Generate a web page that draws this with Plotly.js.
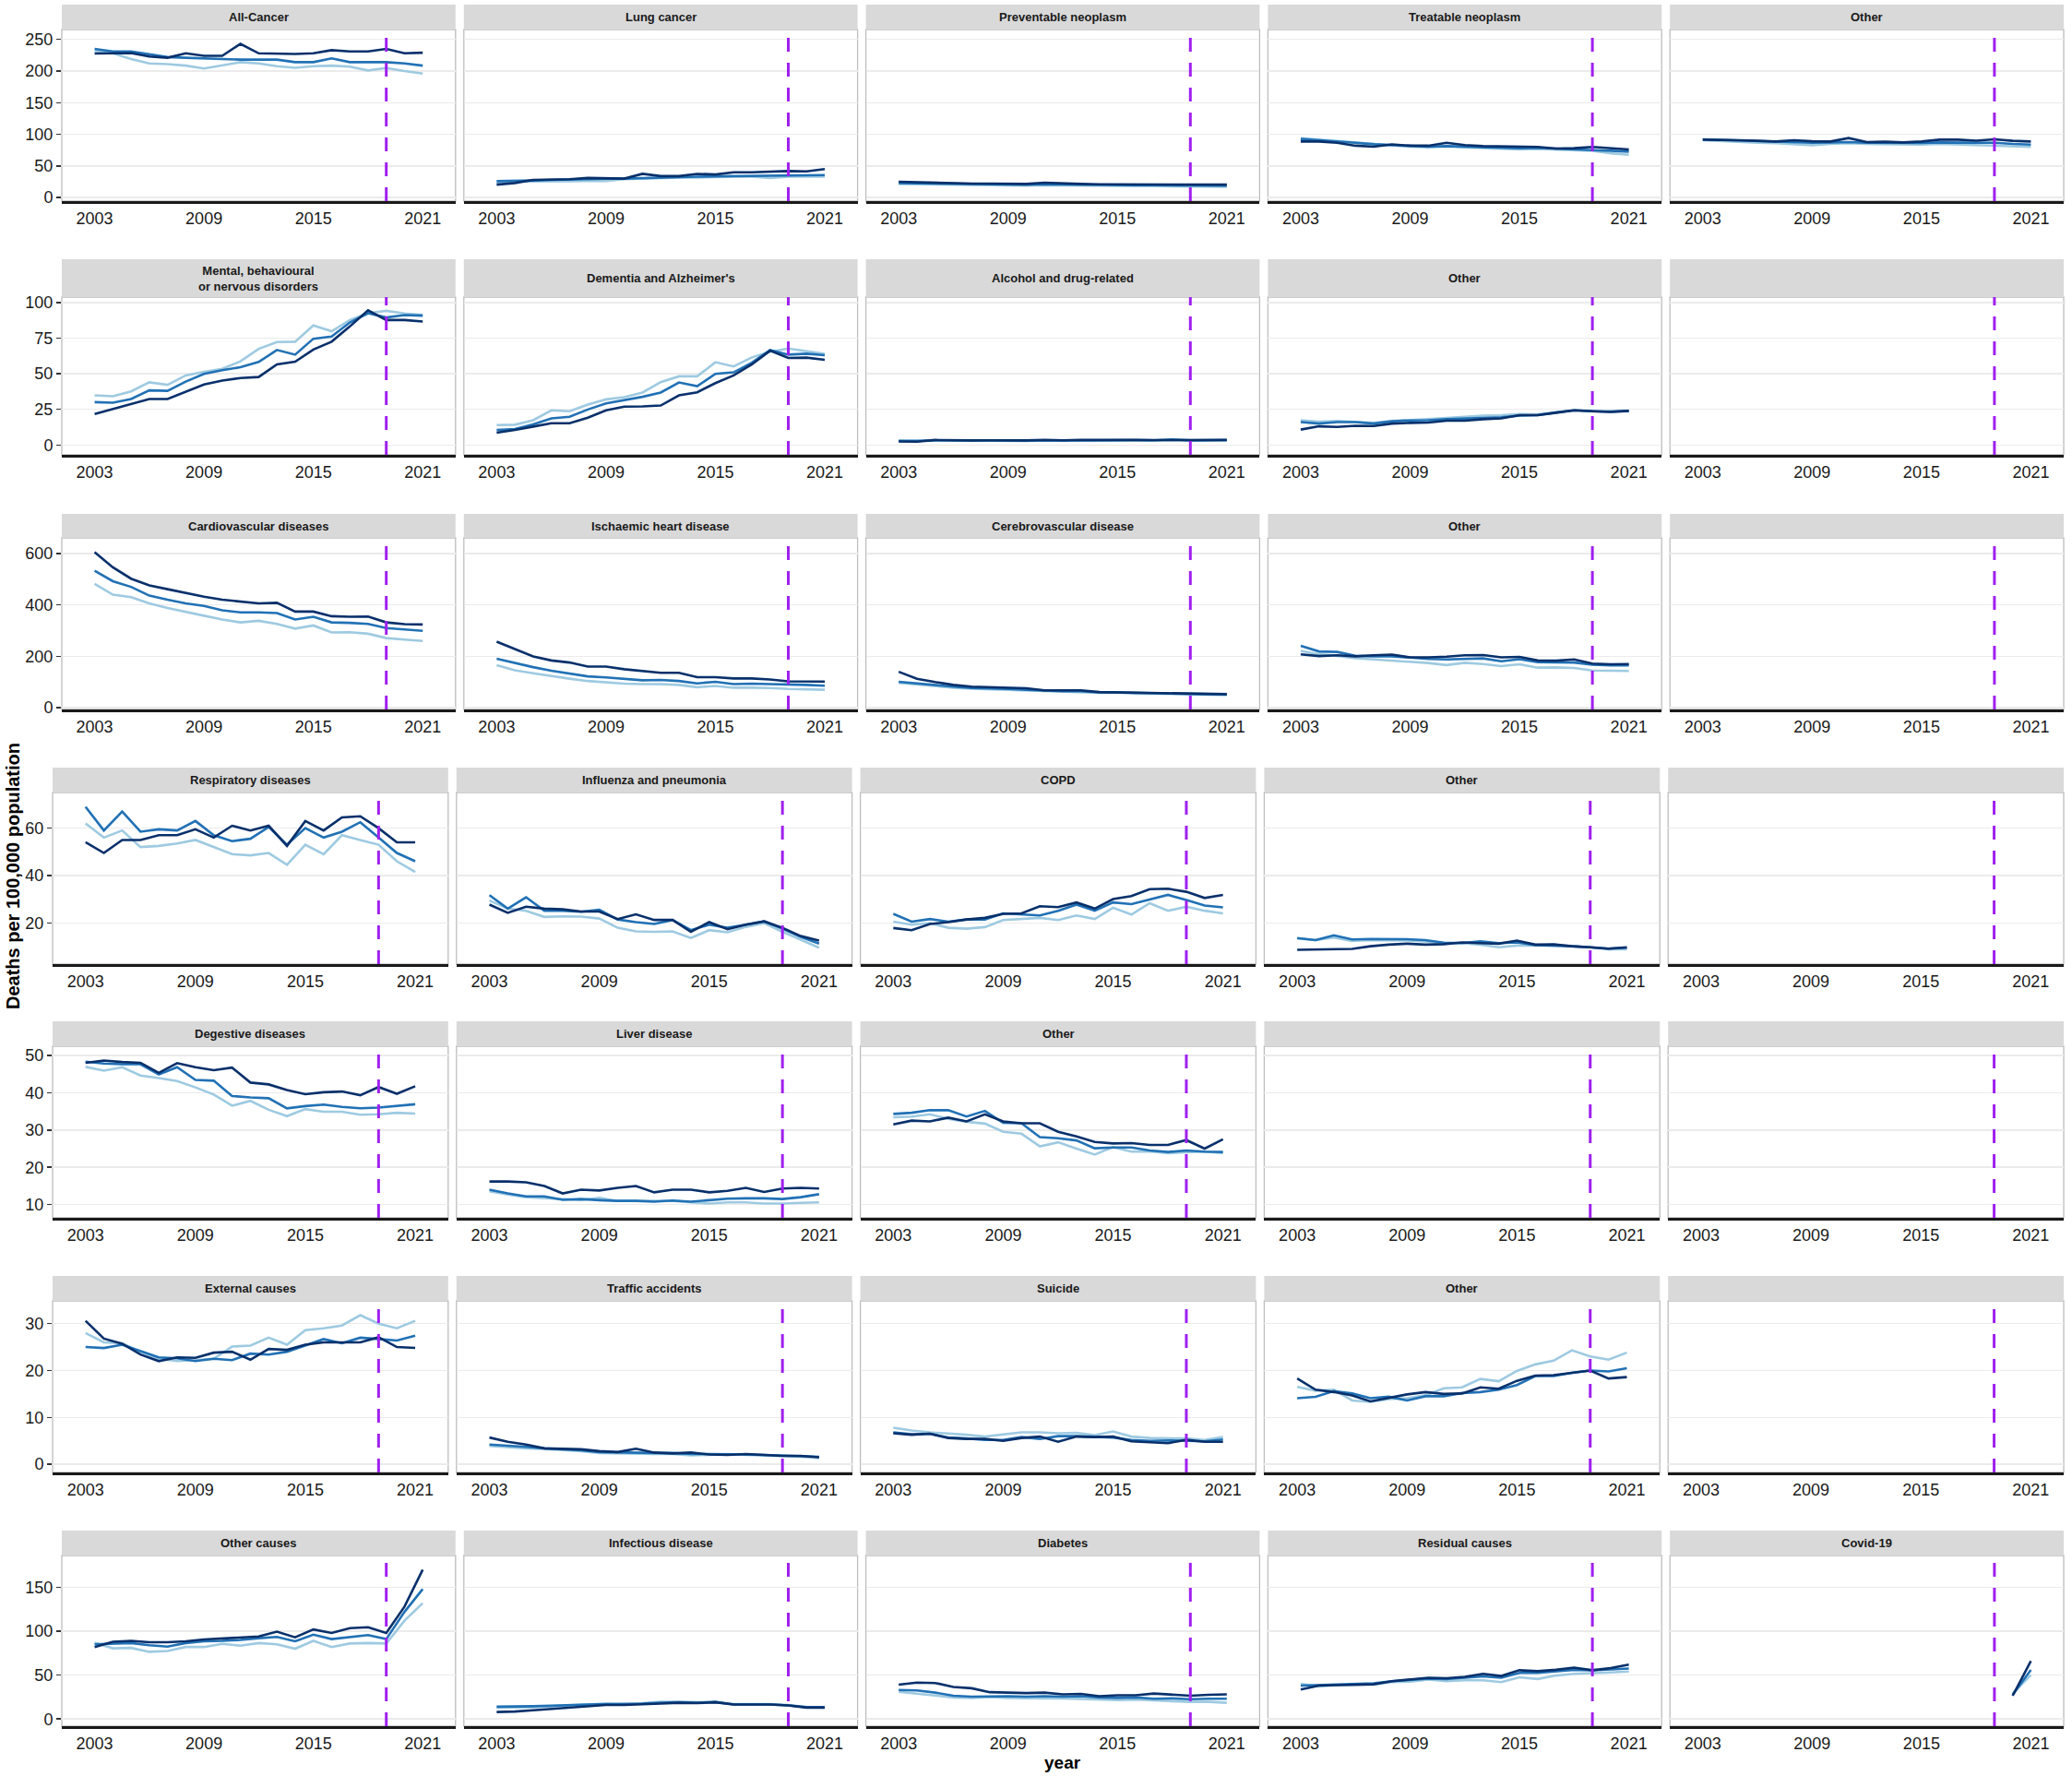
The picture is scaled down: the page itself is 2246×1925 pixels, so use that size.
<!DOCTYPE html>
<html><head><meta charset="utf-8">
<script src="https://cdn.plot.ly/plotly-3.0.1.min.js"></script>
<style>html,body{margin:0;padding:0;background:#fff;} #chart{width:2246px;height:1925px;}</style>
</head><body><div id="chart"></div>
<script>
// ---------------- DATA ----------------
const years = [2003,2004,2005,2006,2007,2008,2009,2010,2011,2012,2013,2014,2015,2016,2017,2018,2019,2020,2021];
const covidYears = [2020, 2021];
const xTicks = [2003, 2009, 2015, 2021];
const cutoffYear = 2019;

// Row 1: cancer
const allCancerDark  = [227.6,228,228.5,223,221,228,224,224,243,228,227,227,228,233,231,231,235,228,229];
const allCancerMid   = [235,231,231,227,222,221,220,218,218,218,218,214,214,220,214,214,214,212,208.5];
const allCancerLight = [232,228,219,212,211,208.5,204,209.5,214,212,207.6,205,207.6,208.5,207,201,204.7,200,196];
const lungDark  = [20.5,23,28,28,29,31,31,30,37.5,34,34,37.5,36.5,40,40,41.4,42,41.4,45];
const lungMid   = [26,26,27,28,29,30,30,30,31,32,32.6,33,33.6,34,34,35,35,35.6,35.6];
const lungLight = [23.4,25.3,25.3,26,26,26.3,26.3,29,30,31,31.7,31.7,32.6,33,33,31,33,33,33];
const prevDark  = [25,24,23.5,23,22,22,21.5,21.5,23.5,22,21.5,21,21,21,21,21,20.5,20,20.5];
const prevMid   = [23,22.5,22,21.5,21,21,20.5,20.5,21,20.5,20,19.5,19.5,19.5,19.5,19.5,19,19,19];
const prevLight = [21.5,21,21,20.5,20,20,19.5,19,19.5,19,18.5,18.5,18,18,18,17.5,17.5,17,17];
const treatDark  = [88.7,88.7,86.7,82,80.4,84,82,82,86.7,83,81.4,81,81.4,80,77.5,78,80,78,76];
const treatMid   = [92.6,90.6,89.7,86.7,84.3,83,81.4,80.4,81.4,80.4,79.4,78,78,78.5,77,76,75,74,72.6];
const treatLight = [94,91.6,90,87.7,85,83,80.4,79.4,81,79.4,78,77,76,77,76,75,74,70,67.7];
const otherCancerDark  = [91.6,91.6,90.6,89.7,88.7,90.6,89,88.7,94,87.7,88.2,87.2,88.7,91.6,91.6,90,92,89.7,88.7];
const otherCancerMid   = [92,91,89.7,88.7,88.2,87.2,86.7,87.2,87.7,86.7,86.2,85.8,86.2,87.2,86.7,86.7,86.7,84.8,83.8];
const otherCancerLight = [90.6,89,87.7,86.7,85.8,83.8,82.8,84.8,85.8,84.8,84.3,83.8,83.8,84.8,83.8,82.8,82.8,81,80];

// Row 2: mental
const mentalDark  = [21.7,25.2,28.8,32.3,32.3,37.4,42.4,45.2,47,47.7,56.6,58.5,67,72.5,83.2,94.6,87.7,87.7,86.7];
const mentalMid   = [30.1,29.7,32.3,38.3,38,44.5,49.9,52.5,54.6,58.3,66.7,63.4,74.6,76.1,86,92.5,89.5,91.2,90.8];
const mentalLight = [34.8,34.2,37.6,44,42.2,48.8,51.4,53.5,58.7,67.5,72.3,72.5,83.9,79.8,87.7,92.5,94.2,92.3,91.4];
const dementiaDark  = [8.6,10.5,12.9,15.3,15.3,19.1,24.3,26.9,27.1,27.7,34.8,37,43.4,48.8,56.6,66.2,61.1,61.3,59.8];
const dementiaMid   = [10.5,11.2,14.4,18.7,19.8,24.9,29.2,31.6,33.8,36.8,43.9,41.3,49.9,51,57.8,66.7,63.4,64.1,63];
const dementiaLight = [14,14.2,17.4,24.3,23.7,28.4,32,33.5,36.8,44.1,48.2,48.2,58.1,55.1,61.5,65.4,67.7,65.6,63.9];
const alcoholDark  = [2.5,2.3,3.5,3.2,3.2,3.3,3.2,3.2,3.6,3.3,3.6,3.7,3.6,3.5,3.4,3.5,3.2,3.3,3.5];
const alcoholMid   = [2.8,2.8,3.3,3.2,3.1,3.0,2.9,3.0,3.1,3.1,3.3,3.4,3.4,3.4,3.3,3.9,3.2,3.3,3.4];
const alcoholLight = [3.3,3.2,3.2,3.1,3.0,2.9,2.6,2.8,3.0,3.0,3.1,3.2,3.3,3.3,3.2,3.3,3.1,3.2,3.3];
const otherMentalDark  = [10.8,13.1,12.7,13.5,13.3,15,15.5,15.7,17,17,18.1,18.7,20.9,20.9,22.6,24.3,23.7,23.2,23.9];
const otherMentalMid   = [16.1,15,16.1,16.1,15,16.6,17.2,17.4,18.1,18.5,18.9,19.4,20.6,20.9,22.8,24.3,23.7,23.4,23.9];
const otherMentalLight = [17.4,16.3,16.8,16.1,15.5,16.8,17.4,18.1,18.9,19.8,20.6,20.9,21.7,21.5,23,24.5,23.9,23.4,23.9];

// Row 3: cardiovascular
const cvdDark  = [605,546,502,476,461,446,432,420,412,406,408,374,374,356,354,355,332,325,324];
const cvdMid   = [533,492,470,436,420,406,396,379,371,371,368,343,354,332,330,326,310,305,299];
const cvdLight = [482,440,430,406,388,372,358,343,332,338,326,308,320,293,294,288,271,265,260];
const ihdDark  = [257,228,200,184,176,160,160,150,144,136,136,119,119,114,114,110,103,102,102];
const ihdMid   = [191,174,158,144,132,122,118,112,107,108,104,95,101,92,94,92,91,89,86];
const ihdLight = [166,146,134,123,113,104,98,94,92,92,89,80,85,78,78,77,73,72,70];
const cbvDark  = [140,113,100,89,82,80,80,76,68,67,68,61,60,60,58,56,56,54,53];
const cbvMid   = [101,94,88,82,77,76,73,70,66,64,64,60,60,58,56,55,54,53,52];
const cbvLight = [97,90,84,78,74,72,70,66,64,62,61,58,59,55,55,53,53,50,49];
const otherCvdDark  = [208,201,204,200,204,207,196,196,199,204,205,196,198,184,183,188,172,169,170];
const otherCvdMid   = [241,219,217,202,200,200,195,190,188,190,192,181,189,177,177,176,168,165,165];
const otherCvdLight = [221,208,202,193,188,184,178,174,166,175,170,162,169,156,157,155,145,144,143];

// Row 4: respiratory
const respDark  = [54,49.5,55,55,57,57,59.5,56,61,59,61,52.5,63,59,64.5,65,60,54,54];
const respMid   = [69,59,67,58.5,59.5,59,63,57,54.5,55.5,60.5,53,60,56,58.5,62.5,56,49.5,46];
const respLight = [62,56,59,52,52.5,53.5,55,52,49,48.5,49.5,44.5,53,49,57,55,53,46,41.5];
const fluDark  = [27.7,24.2,26.8,26,25.7,24.8,24.8,21.6,23.6,21.2,21.2,16.2,20.3,17.3,19.2,20.6,17.9,14.4,12.5];
const fluMid   = [31.7,26,30.8,25.1,25.1,24.7,25.5,21.4,20.3,19.5,21.2,16.9,19.2,17.9,19.2,20.6,17.5,14,11.2];
const fluLight = [29.4,26,25.1,22.5,22.7,22.6,21.8,17.9,16.4,16.2,16.4,13.6,16.9,16,18.3,19.9,16.2,12.7,9.5];
const copdDark  = [17.8,16.9,19.5,20.3,21.4,22.1,23.8,24,27,26.6,28.6,26,30,31.3,34.2,34.4,33.1,30.5,31.8];
const copdMid   = [23.8,20.5,21.6,20.5,21.4,21.4,24,23.6,23.1,25.1,27.7,25.1,28.6,27.9,29.9,31.8,29.6,27.3,26.5];
const copdLight = [20.5,19.2,19.9,17.9,17.5,18.2,21.2,21.6,22.1,21.2,23.1,21.6,26.4,23.5,28.3,25.1,26.8,25.1,24];
const otherRespDark  = [8.6,8.8,9,9,10.1,10.8,11.2,10.8,11,11.7,11.4,11.2,12.5,10.8,10.9,10.1,9.7,9.1,9.7];
const otherRespMid   = [13.6,12.7,14.7,13,13.2,13.1,13.1,12.7,11.6,11.4,12.2,11.4,11.7,10.6,10.4,10.1,9.7,9.1,9.5];
const otherRespLight = [13.4,12.7,13.8,12.3,12.7,12.7,12.5,12.1,11.4,11.4,10.8,9.7,10.4,10.4,10.8,10.1,9.7,8.8,8.8];

// Row 5: digestive
const digestDark  = [48,48.6,48.2,48,45.3,47.9,46.8,46,46.7,42.7,42.2,40.7,39.6,40.1,40.3,39.3,41.5,39.7,41.7];
const digestMid   = [48.3,47.8,47.6,47.6,44.9,46.8,43.4,43.2,39.1,38.7,38.5,35.8,36.4,36.8,36.2,35.8,36,36.4,36.9];
const digestLight = [46.9,45.9,46.8,44.6,43.9,43.1,41.4,39.5,36.5,37.8,35.4,33.7,35.6,34.9,34.9,34.1,34.2,34.6,34.4];
const liverDark  = [16.2,16.2,16,15,13,14,13.8,14.5,15,13.3,14,14,13.3,13.7,14.5,13.4,14.3,14.5,14.3];
const liverMid   = [14,13,12.2,12.2,11.3,11.5,11.2,11,11,10.8,11.1,10.8,11.2,11.6,11.7,11.7,11.5,12,12.8];
const liverLight = [13.6,12.7,12,11.8,11.5,11.2,11.8,11,11,10.9,11,10.6,10.3,10.6,10.6,10.3,10.3,10.5,10.6];
const otherDigestDark  = [31.5,32.5,32.3,33.3,32.3,34.2,32.3,31.8,31.8,29.5,28.3,26.8,26.4,26.5,26,26,27.3,25,27.5];
const otherDigestMid   = [34.3,34.6,35.3,35.3,33.6,35.1,31.9,31.8,28.1,27.8,27.2,25.1,25.3,25.3,24.5,24.1,24.5,24.2,24.1];
const otherDigestLight = [33.4,33.6,34.2,33,32.2,31.7,29.5,29,25.6,26.7,25,23.4,25.4,24.2,24.3,23.8,24,24.2,23.8];

// Row 6: external
const externalDark  = [30.6,26.8,25.7,23.4,22,22.8,22.7,23.8,24,22.3,24.6,24.4,25.5,26,26,26,27.1,25,24.8];
const externalMid   = [25,24.8,25.5,24.2,22.8,22.6,22,22.5,22.2,23.6,23.4,24,25.3,26.7,25.8,27,26.7,26.4,27.4];
const externalLight = [28,26,25.8,24,22.5,22,22.2,22.5,25.1,25.3,27,25.5,28.6,29,29.6,31.8,30,29,30.6];
const trafficDark  = [5.7,4.8,4.2,3.4,3.3,3.2,2.8,2.6,3.3,2.5,2.3,2.5,2.1,2.0,2.2,2.0,1.8,1.8,1.5];
const trafficMid   = [4.2,4.0,3.7,3.4,3.2,3.0,2.6,2.5,2.5,2.4,2.4,2.2,2.2,2.2,2.1,2.0,1.9,1.8,1.6];
const trafficLight = [3.9,3.6,3.4,3.3,3.1,2.8,2.4,2.3,2.3,2.2,2.2,1.9,2.0,2.2,2.0,1.9,1.8,1.6,1.3];
const suicideDark  = [6.6,6.3,6.5,5.6,5.4,5.4,5.0,5.6,5.9,4.8,5.9,5.8,5.9,4.9,4.7,4.5,5.2,4.8,4.8];
const suicideMid   = [6.8,6.4,6.5,5.7,5.5,5.2,5.2,5.8,5.4,6.0,6.0,5.9,5.7,5.2,5.0,5.1,5.0,4.9,5.3];
const suicideLight = [7.8,7.2,6.8,6.6,6.3,5.9,6.3,6.8,6.8,6.6,6.7,6.2,7.0,5.9,5.6,5.6,5.5,5.2,5.8];
const otherExtDark  = [18.3,15.9,15.4,14.7,13.4,14.2,14.9,15.4,15,15.1,16.4,16.1,17.8,18.9,19,19.5,20,18.3,18.6];
const otherExtMid   = [14.1,14.4,15.6,15.1,14.1,14.4,13.6,14.5,14.5,15.2,15.4,15.9,16.9,18.8,18.8,19.5,20,19.8,20.5];
const otherExtLight = [16.5,15.7,15.9,13.6,13.3,13.9,14.1,14.7,16.2,16.4,18.2,17.7,19.9,21.3,22.1,24.3,23,22.3,23.8];

// Row 7: other causes
const otherCausesDark  = [82,88,89,87.5,87.5,88.5,90.5,91.5,92.5,94,99.5,93,102,98,103.5,104.5,98,128,170];
const otherCausesMid   = [85,86,86.5,84,82.5,86.5,88.5,89,90,92,93.5,88.5,96,91,93,95.5,91,122,148];
const otherCausesLight = [87,80.5,81,76.5,77.5,82,82,85.5,83.5,86.5,85,80,89,82,86,86.5,86,112,132];
const infectDark  = [8,8.5,10,11.5,13,15,16,16,16.5,17.5,18.5,18,19,16.5,16.5,16.5,15.5,13,13];
const infectMid   = [14,14,14.5,15,16,16.5,17,17,17.5,18.5,19,18.5,19.5,16.5,16.5,16.5,15.5,13.5,13.5];
const infectLight = [13,13,13.5,14.5,15.5,16.5,17.5,16.5,18,19.5,19.5,19,19,17,17,17,16,13.5,13.5];
const diabetesDark  = [39,41.5,41,36.5,35,30.5,30,29.5,30,28,28.5,26,27,27,29,28,26.5,27.5,28];
const diabetesMid   = [33,32.5,30,26.5,25.5,26,26,25.5,26,25.5,26,24.5,24,24.5,23,23.5,22.5,23,23];
const diabetesLight = [31,29,27,24.5,24,25,24,23.5,23.5,23.5,23,22,21.5,22,21,20.5,19.5,19.5,18.5];
const residualDark  = [33.5,38,38.5,39,39.5,43,45,47,46.5,48,51.5,49,55.5,54.5,56,58.5,55.5,58,62];
const residualMid   = [38,38.5,39.5,40,40.5,43,44.5,46,45.5,47,48.5,47,52.5,52.5,54.5,56,55.5,56.5,57.5];
const residualLight = [40,37,38.5,39,39.5,42,42.5,45,43,44,44,42,47.5,45.5,49.5,51.5,52,53,54];
const covidDark  = [26.5, 66];
const covidMid   = [27.5, 56];
const covidLight = [29, 50];

const rowTicks = [
  [0,50,100,150,200,250],
  [0,25,50,75,100],
  [0,200,400,600],
  [20,40,60],
  [10,20,30,40,50],
  [0,10,20,30],
  [0,50,100,150]
];

const seriesColors = ['#9ECAE1', '#2171B5', '#08306B']; // light, mid, dark

const grid = [
  [ {t:'All-Cancer', s:[allCancerLight, allCancerMid, allCancerDark]},
    {t:'Lung cancer', s:[lungLight, lungMid, lungDark]},
    {t:'Preventable neoplasm', s:[prevLight, prevMid, prevDark]},
    {t:'Treatable neoplasm', s:[treatLight, treatMid, treatDark]},
    {t:'Other', s:[otherCancerLight, otherCancerMid, otherCancerDark]} ],
  [ {t:'Mental, behavioural<br>or nervous disorders', s:[mentalLight, mentalMid, mentalDark]},
    {t:"Dementia and Alzheimer's", s:[dementiaLight, dementiaMid, dementiaDark]},
    {t:'Alcohol and drug-related', s:[alcoholLight, alcoholMid, alcoholDark]},
    {t:'Other', s:[otherMentalLight, otherMentalMid, otherMentalDark]},
    {t:'', s:null} ],
  [ {t:'Cardiovascular diseases', s:[cvdLight, cvdMid, cvdDark]},
    {t:'Ischaemic heart disease', s:[ihdLight, ihdMid, ihdDark]},
    {t:'Cerebrovascular disease', s:[cbvLight, cbvMid, cbvDark]},
    {t:'Other', s:[otherCvdLight, otherCvdMid, otherCvdDark]},
    {t:'', s:null} ],
  [ {t:'Respiratory diseases', s:[respLight, respMid, respDark]},
    {t:'Influenza and pneumonia', s:[fluLight, fluMid, fluDark]},
    {t:'COPD', s:[copdLight, copdMid, copdDark]},
    {t:'Other', s:[otherRespLight, otherRespMid, otherRespDark]},
    {t:'', s:null} ],
  [ {t:'Degestive diseases', s:[digestLight, digestMid, digestDark]},
    {t:'Liver disease', s:[liverLight, liverMid, liverDark]},
    {t:'Other', s:[otherDigestLight, otherDigestMid, otherDigestDark]},
    {t:'', s:null},
    {t:'', s:null} ],
  [ {t:'External causes', s:[externalLight, externalMid, externalDark]},
    {t:'Traffic accidents', s:[trafficLight, trafficMid, trafficDark]},
    {t:'Suicide', s:[suicideLight, suicideMid, suicideDark]},
    {t:'Other', s:[otherExtLight, otherExtMid, otherExtDark]},
    {t:'', s:null} ],
  [ {t:'Other causes', s:[otherCausesLight, otherCausesMid, otherCausesDark]},
    {t:'Infectious disease', s:[infectLight, infectMid, infectDark]},
    {t:'Diabetes', s:[diabetesLight, diabetesMid, diabetesDark]},
    {t:'Residual causes', s:[residualLight, residualMid, residualDark]},
    {t:'Covid-19', s:[covidLight, covidMid, covidDark], x:covidYears} ]
];

// ---------------- LAYOUT ----------------
const W = 2246, H = 1925;
const FONT = 'Liberation Sans, Arial, Helvetica, sans-serif';
// [stripTop, panelTop, panelBottom] in pixels
const rowBoxes = [[5,32,218],[281,322,493],[557,583,769],[832,859,1045],[1107,1134,1320],[1383,1410,1596],[1659,1686,1871]];
const rowLeft = [67,67,67,57,57,57,67];
const RIGHT = 2237, GAP = 9;
const xPad = (years[years.length-1] - years[0]) * 0.1;
const xRange = [years[0] - xPad, years[years.length-1] + xPad];

const traces = [];
const layout = {
  width: W, height: H,
  margin: {l:0, r:0, t:0, b:0},
  paper_bgcolor: '#ffffff',
  plot_bgcolor: 'rgba(0,0,0,0)',
  showlegend: false,
  font: {family: FONT, color: '#1a1a1a'},
  shapes: [],
  annotations: []
};

for (let r = 0; r < 7; r++) {
  let vals = [];
  grid[r].forEach(p => { if (p.s) p.s.forEach(a => vals = vals.concat(a)); });
  const mn = Math.min(...vals), mx = Math.max(...vals);
  const pad = (mx - mn) * 0.1;
  const yRange = [mn - pad, mx + pad];
  const [sTop, pTop, pBot] = rowBoxes[r];
  const pw = (RIGHT - rowLeft[r] - 4 * GAP) / 5;
  for (let c = 0; c < 5; c++) {
    const idx = r * 5 + c + 1;
    const suf = idx === 1 ? '' : String(idx);
    const x0 = rowLeft[r] + c * (pw + GAP), x1 = x0 + pw;
    const p = grid[r][c];
    layout['xaxis' + suf] = {
      domain: [x0 / W, x1 / W], anchor: 'y' + suf, range: xRange,
      tickvals: xTicks, showgrid: false, zeroline: false,
      showline: true, linecolor: '#1a1a1a', linewidth: 3,
      ticks: '', tickfont: {size: 18, color: '#1a1a1a', family: FONT},
      fixedrange: true
    };
    layout['yaxis' + suf] = {
      domain: [1 - pBot / H, 1 - pTop / H], anchor: 'x' + suf, range: yRange,
      tickvals: rowTicks[r], showgrid: true, gridcolor: '#EBEBEB', gridwidth: 1.5,
      zeroline: false, showline: false,
      showticklabels: c === 0, ticks: c === 0 ? 'outside' : '', ticklen: 5, tickwidth: 1.5, tickcolor: '#333333',
      tickfont: {size: 18, color: '#1a1a1a', family: FONT}, fixedrange: true
    };
    if (p.s) {
      p.s.forEach((arr, k) => {
        traces.push({
          type: 'scatter', mode: 'lines', x: p.x || years, y: arr,
          xaxis: 'x' + suf, yaxis: 'y' + suf,
          line: {color: seriesColors[k], width: 2.6},
          hoverinfo: 'skip', showlegend: false
        });
      });
    } else {
      traces.push({type: 'scatter', mode: 'lines', x: [], y: [], xaxis: 'x' + suf, yaxis: 'y' + suf, showlegend: false, hoverinfo: 'skip'});
    }
    layout.shapes.push({type: 'rect', xref: 'paper', yref: 'paper', layer: 'below',
      x0: x0 / W, x1: x1 / W, y0: 1 - pBot / H, y1: 1 - pTop / H,
      line: {color: '#BEBEBE', width: 1.3}, fillcolor: 'rgba(0,0,0,0)'});
    layout.shapes.push({type: 'rect', xref: 'paper', yref: 'paper', layer: 'below',
      x0: x0 / W, x1: x1 / W, y0: 1 - pTop / H, y1: 1 - sTop / H,
      line: {width: 0}, fillcolor: '#D9D9D9'});
    if (p.t) {
      layout.annotations.push({xref: 'paper', yref: 'paper', x: (x0 + x1) / 2 / W, y: 1 - (sTop + pTop) / 2 / H,
        text: '<b>' + p.t + '</b>', showarrow: false, xanchor: 'center', yanchor: 'middle',
        font: {size: 13, color: '#1a1a1a', family: FONT}});
    }
    layout.shapes.push({type: 'line', xref: 'x' + suf, yref: 'y' + suf + ' domain',
      x0: cutoffYear, x1: cutoffYear, y0: 0, y1: 1,
      line: {color: '#A020F0', width: 3, dash: '15px,12px'}});
  }
}

layout.annotations.push({xref: 'paper', yref: 'paper', x: 14 / W, y: 1 - 950 / H,
  text: '<b>Deaths per 100,000 population</b>', textangle: -90, showarrow: false,
  xanchor: 'center', yanchor: 'middle', font: {size: 20, color: '#000', family: FONT}});
layout.annotations.push({xref: 'paper', yref: 'paper', x: 1152 / W, y: 1 - 1910 / H,
  text: '<b>year</b>', showarrow: false, xanchor: 'center', yanchor: 'middle',
  font: {size: 19, color: '#000', family: FONT}});

Plotly.newPlot('chart', traces, layout, {staticPlot: true, displayModeBar: false});
</script>
</body></html>
